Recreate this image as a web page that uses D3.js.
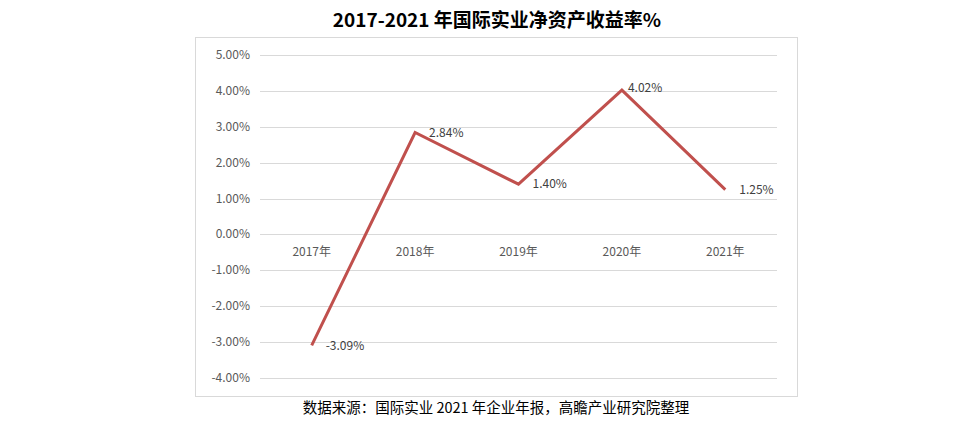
<!DOCTYPE html><html><head><meta charset="utf-8"><script src="https://d3js.org/d3.v7.min.js"></script>
<style>body{margin:0;background:#fff}text{font-family:"Noto Sans CJK SC","DejaVu Sans",sans-serif}</style></head><body><svg id="c" width="978" height="422"></svg>
<script>
const categories=["2017年","2018年","2019年","2020年","2021年"];
const values=[-3.09,2.84,1.40,4.02,1.25];
const yTicks=[5,4,3,2,1,0,-1,-2,-3,-4];
const title="2017-2021 年国际实业净资产收益率%";
const source="数据来源：国际实业 2021 年企业年报，高瞻产业研究院整理";
const svg=d3.select("#c");
svg.append("rect").attr("x",195.5).attr("y",37.5).attr("width",602).attr("height",359).attr("fill","none").attr("stroke","#d9d9d9");
const x=d3.scaleBand().domain(categories).range([260,777]);
const y=d3.scaleLinear().domain([-4,5]).range([378,55]);
svg.selectAll(".g").data(yTicks).join("line").attr("x1",260).attr("x2",777).attr("y1",d=>Math.round(y(d))+.5).attr("y2",d=>Math.round(y(d))+.5).attr("stroke","#d9d9d9");
svg.selectAll(".yt").data(yTicks).join("text").attr("x",250).attr("y",d=>y(d)+4).attr("text-anchor","end").attr("font-size",12).attr("fill","#595959").text(d=>d.toFixed(2)+"%");
svg.selectAll(".xt").data(categories).join("text").attr("x",d=>x(d)+x.bandwidth()/2).attr("y",y(0)+22).attr("text-anchor","middle").attr("font-size",12).attr("fill","#595959").text(d=>d);
const cx=(d,i)=>x(categories[i])+x.bandwidth()/2;
svg.append("path").attr("d",d3.line().x(cx).y(d=>y(d))(values)).attr("fill","none").attr("stroke","#C0504D").attr("stroke-width",3);
const dy=[5,4,4,2,4];
svg.selectAll(".dl").data(values).join("text").attr("x",(d,i)=>cx(d,i)+(i==3?6:14)).attr("y",(d,i)=>y(d)+dy[i]).attr("font-size",12).attr("fill","#404040").text(d=>d.toFixed(2)+"%");
svg.append("text").attr("x",497).attr("y",27).attr("text-anchor","middle").attr("font-size",19).attr("font-weight","bold").attr("fill","#000").text(title);
svg.append("text").attr("x",496).attr("y",413).attr("text-anchor","middle").attr("font-size",14.5).attr("fill","#000").text(source);
</script></body></html>
